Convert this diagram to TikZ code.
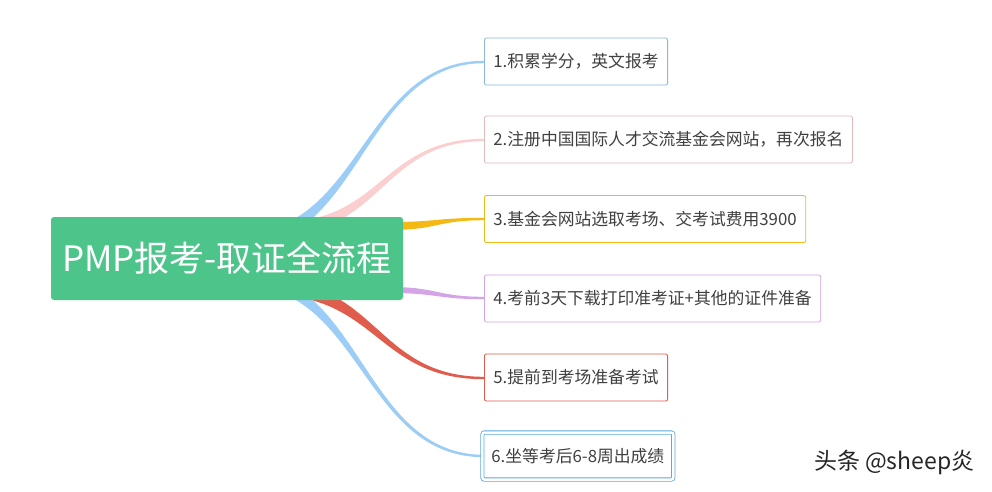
\documentclass[tikz,border=0pt]{standalone}
\usepackage{fontspec}
\setmainfont{Noto Sans CJK SC}
\newcommand\branch[6]{\fill[#1] ({#2},{#3-#6/2}) .. controls ({(#2+#4)/2},{#3-#6/2}) and ({(#2+#4)/2},{#5-1.2}) .. ({#4},{#5-1.2}) -- ({#4},{#5+1.2}) .. controls ({(#2+#4)/2},{#5+1.2}) and ({(#2+#4)/2},{#3+#6/2}) .. ({#2},{#3+#6/2}) -- cycle;}
\begin{document}
\begin{tikzpicture}[x=1pt,y=-1pt,
  item/.style={draw=#1,line width=0.8pt,rounded corners=2pt,anchor=west,minimum height=47pt,inner xsep=9pt,font=\fontsize{16.8}{19}\selectfont,text=black!75}]
\useasboundingbox[fill=white] (0,0) rectangle (992,491);
\definecolor{cA}{HTML}{9CCDF6}\definecolor{cB}{HTML}{FBCFCF}\definecolor{cC}{HTML}{F4B915}
\definecolor{cD}{HTML}{D3A4E6}\definecolor{cE}{HTML}{E05C4C}\definecolor{cG}{HTML}{4DC48A}
\definecolor{cF}{HTML}{5AA9E6}
\branch{cA}{240}{240}{484}{62}{14}
\branch{cB}{280}{228}{484}{140}{12}
\branch{cC}{390}{226}{484}{219}{8}
\branch{cD}{390}{290}{484}{298}{6}
\branch{cE}{270}{288}{484}{378}{14}
\branch{cA}{240}{278}{484}{456}{14}
\node[fill=cG,rounded corners=3pt,minimum width=352pt,minimum height=83pt,text=white,font=\fontsize{35}{40}\selectfont] (c) at (227,258.5) {PMP报考-取证全流程};
\node[item=cA!90!black] (n1) at (484,61.5) {1.积累学分，英文报考};
\node[item=cB!90!black] (n2) at (484,139.5) {2.注册中国国际人才交流基金会网站，再次报名};
\node[item=cC] (n3) at (484,219) {3.基金会网站选取考场、交考试费用3900};
\node[item=cD] (n4) at (484,298.5) {4.考前3天下载打印准考证+其他的证件准备};
\node[item=cE] (n5) at (484,377.5) {5.提前到考场准备考试};
\node[item=cF,double=white,double distance=2.5pt] (n6) at (482,456) {6.坐等考后6-8周出成绩};
\node[font=\fontsize{23}{26}\selectfont,text=black!85,anchor=east] (wm) at (978,462) {头条 @sheep炎};
\end{tikzpicture}
\end{document}
